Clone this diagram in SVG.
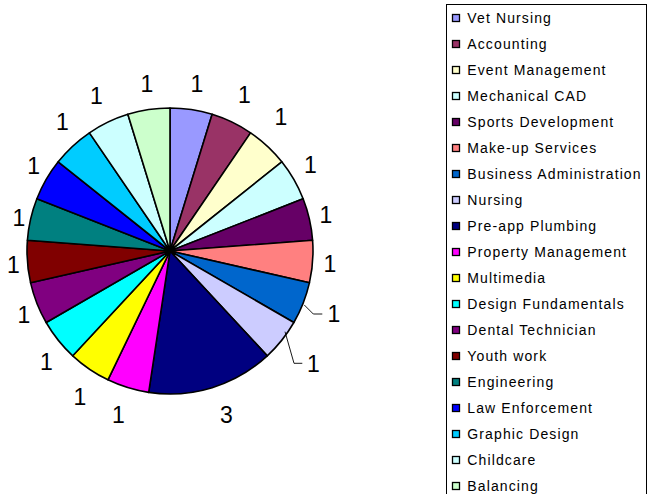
<svg xmlns="http://www.w3.org/2000/svg" width="648" height="494" viewBox="0 0 648 494">
<style>
.s{stroke:#000;stroke-width:1.6;stroke-linejoin:round}
.lbl{font-family:"Liberation Sans",Arial,sans-serif;font-size:23px;fill:#000;text-anchor:middle}
.lt{font-family:"Liberation Sans",Arial,sans-serif;font-size:14px;fill:#000;letter-spacing:1.12px}
.sw{stroke:#000;stroke-width:1.3}
.ld{fill:none;stroke:#000;stroke-width:0.9}
</style>
<rect width="648" height="494" fill="#fff"/>
<g id="pie">
<g id="slice-vet-nursing"><path class="s" fill="#9999FF" d="M170,251 L170,108 A143,143 0 0 1 212.15,114.35 Z"/><text class="lbl" x="197" y="92">1</text></g>
<g id="slice-accounting"><path class="s" fill="#993366" d="M170,251 L212.15,114.35 A143,143 0 0 1 250.55,132.85 Z"/><text class="lbl" x="244.5" y="103">1</text></g>
<g id="slice-event-management"><path class="s" fill="#FFFFCC" d="M170,251 L250.55,132.85 A143,143 0 0 1 281.80,161.84 Z"/><text class="lbl" x="281" y="125">1</text></g>
<g id="slice-mechanical-cad"><path class="s" fill="#CCFFFF" d="M170,251 L281.80,161.84 A143,143 0 0 1 303.12,198.76 Z"/><text class="lbl" x="310.5" y="173">1</text></g>
<g id="slice-sports-development"><path class="s" fill="#660066" d="M170,251 L303.12,198.76 A143,143 0 0 1 312.60,240.31 Z"/><text class="lbl" x="326" y="223">1</text></g>
<g id="slice-make-up-services"><path class="s" fill="#FF8080" d="M170,251 L312.60,240.31 A143,143 0 0 1 309.41,282.82 Z"/><text class="lbl" x="330" y="272">1</text></g>
<g id="slice-business-administration"><path class="s" fill="#0066CC" d="M170,251 L309.41,282.82 A143,143 0 0 1 293.84,322.5 Z"/><text class="lbl" x="334" y="322">1</text></g>
<g id="slice-nursing"><path class="s" fill="#CCCCFF" d="M170,251 L293.84,322.5 A143,143 0 0 1 267.26,355.83 Z"/><text class="lbl" x="313.5" y="372">1</text></g>
<g id="slice-pre-app-plumbing"><path class="s" fill="#000080" d="M170,251 L267.26,355.83 A143,143 0 0 1 148.69,392.40 Z"/><text class="lbl" x="226.5" y="423">3</text></g>
<g id="slice-property-management"><path class="s" fill="#FF00FF" d="M170,251 L148.69,392.40 A143,143 0 0 1 107.95,379.84 Z"/><text class="lbl" x="118.5" y="423">1</text></g>
<g id="slice-multimedia"><path class="s" fill="#FFFF00" d="M170,251 L107.95,379.84 A143,143 0 0 1 72.74,355.83 Z"/><text class="lbl" x="80" y="405">1</text></g>
<g id="slice-design-fundamentals"><path class="s" fill="#00FFFF" d="M170,251 L72.74,355.83 A143,143 0 0 1 46.16,322.5 Z"/><text class="lbl" x="46.5" y="370">1</text></g>
<g id="slice-dental-technician"><path class="s" fill="#800080" d="M170,251 L46.16,322.5 A143,143 0 0 1 30.59,282.82 Z"/><text class="lbl" x="24" y="323">1</text></g>
<g id="slice-youth-work"><path class="s" fill="#800000" d="M170,251 L30.59,282.82 A143,143 0 0 1 27.40,240.31 Z"/><text class="lbl" x="13.5" y="273">1</text></g>
<g id="slice-engineering"><path class="s" fill="#008080" d="M170,251 L27.40,240.31 A143,143 0 0 1 36.88,198.76 Z"/><text class="lbl" x="19" y="226">1</text></g>
<g id="slice-law-enforcement"><path class="s" fill="#0000FF" d="M170,251 L36.88,198.76 A143,143 0 0 1 58.20,161.84 Z"/><text class="lbl" x="33.7" y="174">1</text></g>
<g id="slice-graphic-design"><path class="s" fill="#00CCFF" d="M170,251 L58.20,161.84 A143,143 0 0 1 89.45,132.85 Z"/><text class="lbl" x="62.5" y="130">1</text></g>
<g id="slice-childcare"><path class="s" fill="#CCFFFF" d="M170,251 L89.45,132.85 A143,143 0 0 1 127.85,114.35 Z"/><text class="lbl" x="96.5" y="104">1</text></g>
<g id="slice-balancing"><path class="s" fill="#CCFFCC" d="M170,251 L127.85,114.35 A143,143 0 0 1 170,108 Z"/><text class="lbl" x="147" y="92">1</text></g>
</g>
<g id="connectors">
<polyline class="ld" points="304.3,305 313.3,314 322.3,314"/>
<polyline class="ld" points="285,331.7 294,363.3 302.3,363.3"/>
</g>
<g id="legend">
<rect x="446.5" y="4.5" width="200" height="500" fill="#fff" stroke="#000" stroke-width="1"/>
<g id="legend-vet-nursing"><rect class="sw" x="452.5" y="14.5" width="7" height="7" fill="#9999FF"/><text class="lt" x="467.3" y="23">Vet Nursing</text></g>
<g id="legend-accounting"><rect class="sw" x="452.5" y="40.5" width="7" height="7" fill="#993366"/><text class="lt" x="467.3" y="49">Accounting</text></g>
<g id="legend-event-management"><rect class="sw" x="452.5" y="66.5" width="7" height="7" fill="#FFFFCC"/><text class="lt" x="467.3" y="75">Event Management</text></g>
<g id="legend-mechanical-cad"><rect class="sw" x="452.5" y="92.5" width="7" height="7" fill="#CCFFFF"/><text class="lt" x="467.3" y="101">Mechanical CAD</text></g>
<g id="legend-sports-development"><rect class="sw" x="452.5" y="118.5" width="7" height="7" fill="#660066"/><text class="lt" x="467.3" y="127">Sports Development</text></g>
<g id="legend-make-up-services"><rect class="sw" x="452.5" y="144.5" width="7" height="7" fill="#FF8080"/><text class="lt" x="467.3" y="153">Make-up Services</text></g>
<g id="legend-business-administration"><rect class="sw" x="452.5" y="170.5" width="7" height="7" fill="#0066CC"/><text class="lt" x="467.3" y="179">Business Administration</text></g>
<g id="legend-nursing"><rect class="sw" x="452.5" y="196.5" width="7" height="7" fill="#CCCCFF"/><text class="lt" x="467.3" y="205">Nursing</text></g>
<g id="legend-pre-app-plumbing"><rect class="sw" x="452.5" y="222.5" width="7" height="7" fill="#000080"/><text class="lt" x="467.3" y="231">Pre-app Plumbing</text></g>
<g id="legend-property-management"><rect class="sw" x="452.5" y="248.5" width="7" height="7" fill="#FF00FF"/><text class="lt" x="467.3" y="257">Property Management</text></g>
<g id="legend-multimedia"><rect class="sw" x="452.5" y="274.5" width="7" height="7" fill="#FFFF00"/><text class="lt" x="467.3" y="283">Multimedia</text></g>
<g id="legend-design-fundamentals"><rect class="sw" x="452.5" y="300.5" width="7" height="7" fill="#00FFFF"/><text class="lt" x="467.3" y="309">Design Fundamentals</text></g>
<g id="legend-dental-technician"><rect class="sw" x="452.5" y="326.5" width="7" height="7" fill="#800080"/><text class="lt" x="467.3" y="335">Dental Technician</text></g>
<g id="legend-youth-work"><rect class="sw" x="452.5" y="352.5" width="7" height="7" fill="#800000"/><text class="lt" x="467.3" y="361">Youth work</text></g>
<g id="legend-engineering"><rect class="sw" x="452.5" y="378.5" width="7" height="7" fill="#008080"/><text class="lt" x="467.3" y="387">Engineering</text></g>
<g id="legend-law-enforcement"><rect class="sw" x="452.5" y="404.5" width="7" height="7" fill="#0000FF"/><text class="lt" x="467.3" y="413">Law Enforcement</text></g>
<g id="legend-graphic-design"><rect class="sw" x="452.5" y="430.5" width="7" height="7" fill="#00CCFF"/><text class="lt" x="467.3" y="439">Graphic Design</text></g>
<g id="legend-childcare"><rect class="sw" x="452.5" y="456.5" width="7" height="7" fill="#CCFFFF"/><text class="lt" x="467.3" y="465">Childcare</text></g>
<g id="legend-balancing"><rect class="sw" x="452.5" y="482.5" width="7" height="7" fill="#CCFFCC"/><text class="lt" x="467.3" y="491">Balancing</text></g>
</g>
</svg>
